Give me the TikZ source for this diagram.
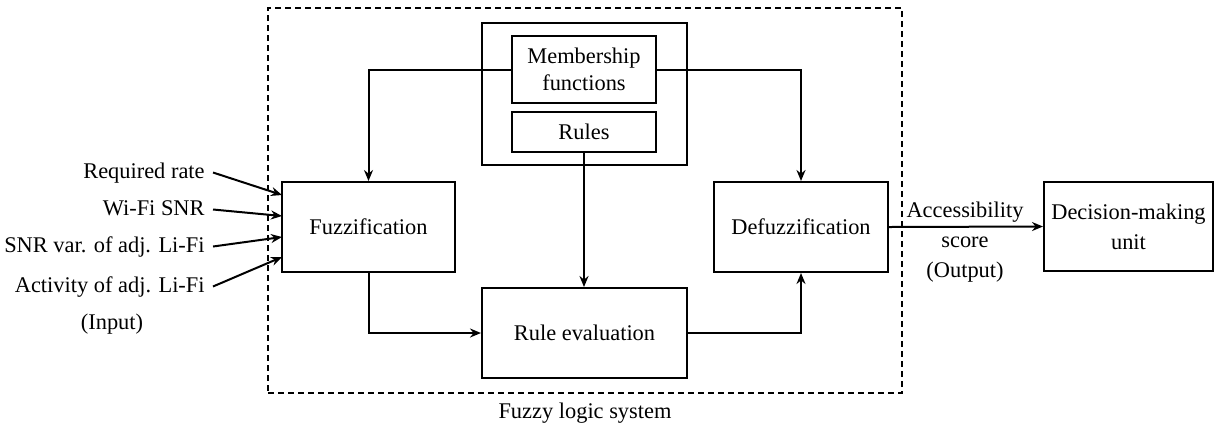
\documentclass[tikz,border=0pt]{standalone}
\usepackage{fontspec}
\setmainfont{Liberation Serif}
\usetikzlibrary{arrows.meta,calc}
\begin{document}
\begin{tikzpicture}[x=0.5pt,y=-0.5pt,
  every node/.style={font=\fontsize{11.2}{15}\selectfont},
  box/.style={draw,line width=1pt,inner sep=0pt,align=center},
  arr/.style={line width=1pt,-{Stealth[length=5.5pt,width=4.5pt]}},
  ln/.style={line width=1pt},
  inp/.style={anchor=east,inner xsep=4pt,inner ysep=0pt,text height=8pt,text depth=2.5pt}]
\useasboundingbox (0,0) rectangle (1215,430);
% fuzzy logic system frame
\node[draw,line width=1pt,dash pattern=on 3pt off 2pt,minimum width=317pt,minimum height=192.5pt,inner sep=0pt] (fls) at (585,200.5) {};
\node (flslabel) at (585,413) {Fuzzy logic system};
% knowledge base
\node[box,minimum width=102.5pt,minimum height=71pt] (kb) at (584.5,94) {};
\node[box,minimum width=72pt,minimum height=33.5pt,font=\fontsize{11.2}{13.5}\selectfont] (mf) at (584,69.5) {Membership\\functions};
\node[box,minimum width=72pt,minimum height=20pt] (rules) at (584,132) {Rules};
% main blocks
\node[box,minimum width=86.5pt,minimum height=45pt] (fuzz) at (368.5,227) {Fuzzification};
\node[box,minimum width=102.5pt,minimum height=45pt] (reval) at (584.5,333) {Rule evaluation};
\node[box,minimum width=87pt,minimum height=45pt] (defuzz) at (801,227) {Defuzzification};
\node[box,minimum width=84.5pt,minimum height=44.5pt] (dmu) at (1128.5,226.5) {Decision-making\\unit};
% inputs
\node[inp] (in1) at (213,172.5) {Required rate};
\node[inp] (in2) at (213,209.5) {Wi-Fi SNR};
\node[inp] (in3) at (213,246.5) {SNR var. of adj. Li-Fi};
\node[inp] (in4) at (213,286.5) {Activity of adj. Li-Fi};
\node (inlabel) at (112,324) {(Input)};
\coordinate (c1) at (282,195);
\coordinate (c2) at (282,216);
\coordinate (c3) at (282,237);
\coordinate (c4) at (282,257);
\draw[arr] (in1.east) -- (c1);
\draw[arr] (in2.east) -- (c2);
\draw[arr] (in3.east) -- (c3);
\draw[arr] (in4.east) -- (c4);
% internal connectors
\draw[arr] (mf.west) -| (fuzz.north);
\draw[arr] (mf.east) -| (defuzz.north);
\draw[arr] (rules.south) -- (rules.south |- reval.north);
\draw[arr] (fuzz.south) |- (reval.west);
\draw[arr] (reval.east) -| (defuzz.south);
\draw[arr] (defuzz.east) -- (dmu.west);
\node[align=center] (outlabel) at (965,242) {Accessibility\\score\\(Output)};
\end{tikzpicture}
\end{document}
